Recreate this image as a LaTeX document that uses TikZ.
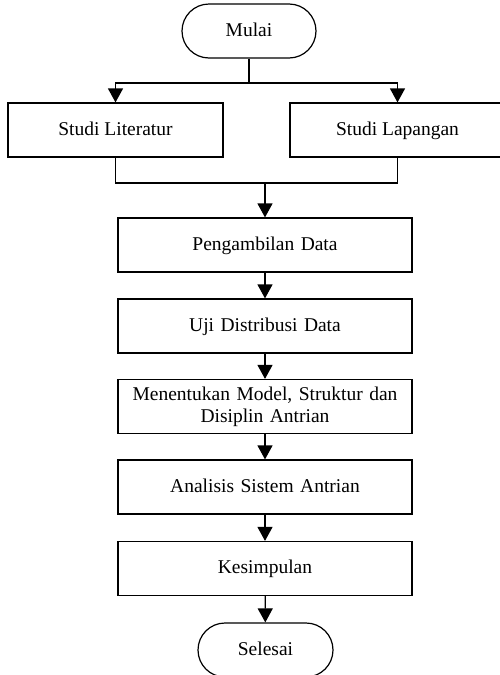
\documentclass[tikz,border=0pt]{standalone}
\usepackage{fontspec}
\setmainfont{Liberation Serif}
\usetikzlibrary{arrows.meta}
\begin{document}
\begin{tikzpicture}[x=1pt,y=1pt,
  line width=1.2pt,
  box/.style={draw, minimum height=54pt, inner sep=2pt, align=center,
    font=\fontsize{19.5}{22}\selectfont},
  oneline/.style={text height=13pt, text depth=3pt},
  mainbox/.style={box, minimum width=294pt, text width=285pt},
  sidebox/.style={box, oneline, minimum width=215pt},
  term/.style={box, oneline, minimum width=134pt, rounded corners=27pt},
  arr/.style={-{Triangle[width=15pt,length=14pt]}}]
\useasboundingbox (0,0) rectangle (500,-675);
\node[term] (mulai) at (249,-31) {Mulai};
\node[sidebox] (lit) at (115.5,-130) {Studi Literatur};
\node[sidebox] (lap) at (397.5,-130) {Studi Lapangan};
\node[mainbox, oneline] (peng) at (265,-245) {Pengambilan Data};
\node[mainbox, oneline] (uji) at (265,-326) {Uji Distribusi Data};
\node[mainbox] (men) at (265,-406.5) {Menentukan Model, Struktur dan\\Disiplin Antrian};
\node[mainbox, oneline] (ana) at (265,-487) {Analisis Sistem Antrian};
\node[mainbox, oneline] (kes) at (265,-568.5) {Kesimpulan};
\node[term, minimum width=135pt] (sel) at (265.5,-650) {Selesai};
\coordinate (split) at (249,-83);
\coordinate (merge) at (265,-183);
\draw (mulai.south) -- (split);
\draw[arr] (split) -| (lit.north);
\draw[arr] (split) -| (lap.north);
\draw (lit.south) |- (merge) -| (lap.south);
\draw[arr] (merge) -- (peng.north);
\draw[arr] (peng) -- (uji);
\draw[arr] (uji) -- (men);
\draw[arr] (men) -- (ana);
\draw[arr] (ana) -- (kes);
\draw[arr] (kes) -- (sel);
\end{tikzpicture}
\end{document}
